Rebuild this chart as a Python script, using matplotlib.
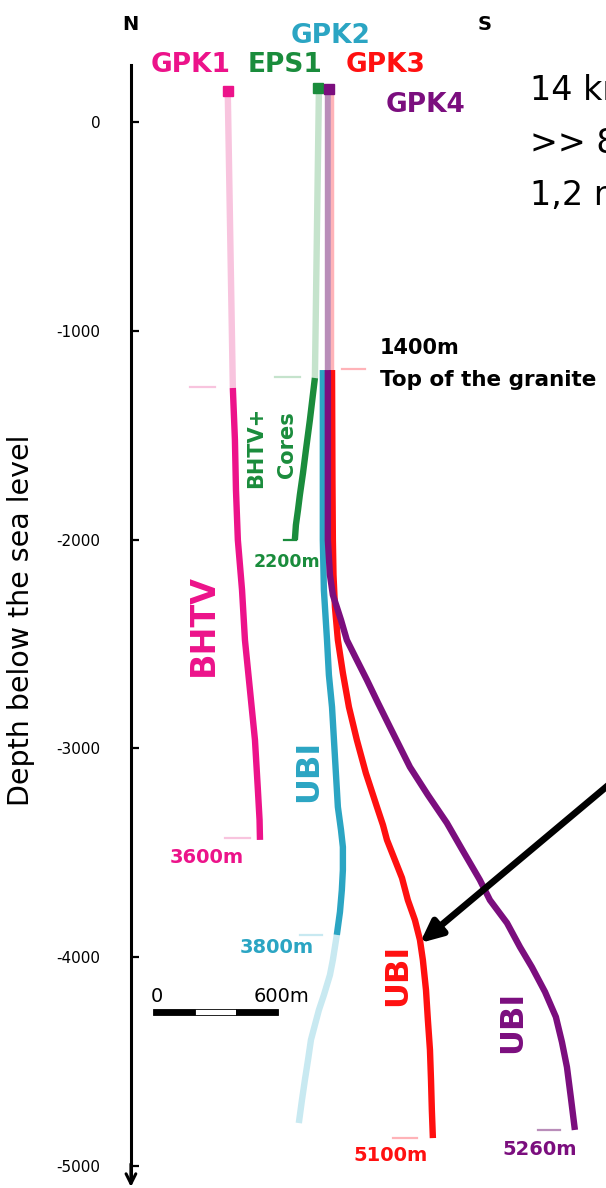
import numpy as np
import matplotlib
matplotlib.use('Agg')
import matplotlib.pyplot as plt

plt.rcParams['axes.unicode_minus'] = False
plt.rcParams['font.family'] = ['DejaVu Sans']

# offsets along the N-S section (m) and elevation (m, negative below sea level)
depth_ticks = [0, -1000, -2000, -3000, -4000, -5000]

gpk1_head = (-465, 148)
gpk1_upper_x = [-465, -441]
gpk1_upper_z = [125, -1274]
gpk1_x = [-441, -431, -426, -417, -397, -383, -359, -335, -321, -313, -311]
gpk1_z = [-1274, -1523, -1762, -2002, -2241, -2481, -2720, -2960, -3199,
          -3343, -3438]

eps1_head = (-34, 163)
eps1_upper_x = [-29, -48]
eps1_upper_z = [140, -1226]
eps1_x = [-48, -72, -91, -105, -120, -129, -139, -144]
eps1_z = [-1226, -1427, -1571, -1681, -1786, -1858, -1930, -2002]

gpk2_x = [-10, -10, -10, -5, 10, 19, 34, 48, 62, 77, 86, 86, 81, 72, 57]
gpk2_z = [-1188, -1714, -2002, -2241, -2481, -2648, -2802, -3041, -3280,
          -3391, -3472, -3582, -3678, -3783, -3893]
gpk2_lower_x = [57, 38, 24, -5, -29, -67, -81, -96, -110, -125]
gpk2_lower_z = [-3893, -4013, -4085, -4181, -4253, -4396, -4492, -4588,
                -4684, -4794]

gpk3_upper_x = [34, 34]
gpk3_upper_z = [140, -1188]
gpk3_x = [34, 36, 38, 41, 48, 62, 86, 115, 153, 196, 249, 278, 297, 335,
          369, 397, 431, 455, 469, 484, 493, 503, 508, 512, 517]
gpk3_z = [-1188, -1714, -2002, -2169, -2323, -2481, -2639, -2802, -2960,
          -3118, -3280, -3367, -3438, -3534, -3620, -3726, -3822, -3917,
          -4013, -4157, -4300, -4444, -4588, -4731, -4866]

gpk4_head = (19, 158)
gpk4_upper_x = [14, 14]
gpk4_upper_z = [140, -1188]
gpk4_x = [14, 14, 14, 24, 38, 57, 77, 105, 148, 201, 254, 311, 359, 407, 493,
          584, 661, 742, 790, 872, 934, 991, 1054, 1106, 1135, 1159, 1178,
          1197]
gpk4_z = [-1188, -1714, -2002, -2169, -2265, -2323, -2385, -2481, -2567,
          -2672, -2782, -2897, -2993, -3089, -3223, -3357, -3491, -3630,
          -3726, -3836, -3951, -4047, -4166, -4286, -4406, -4526, -4674,
          -4827]

# logged intervals: (x start, x end, depth)
log_marks = {
    'gpk1_top': (-646, -527, -1269),
    'gpk1_bot': (-479, -359, -3429),
    'eps1_top': (-239, -120, -1221),
    'eps1_bot': (-194, -139, -2002),
    'gpk3_top': (81, 192, -1183),
    'gpk2_bot': (-120, -14, -3893),
    'gpk3_bot': (326, 441, -4866),
    'gpk4_bot': (1020, 1125, -4827),
}

scale_left = [0, 200, 400]
scale_width = [200, 200, 200]

pink, pink_l = '#EC138A', '#F8C4DE'
green, green_l = '#1A8C3C', '#C5E3CC'
cyan, cyan_l = '#2BA5C3', '#C8E9F1'
red, red_l = '#FF1010', '#FFB3B8'
purple, purple_l = '#7B0E7E', '#B98DB9'

fig = plt.figure(figsize=(6.06, 11.88), dpi=100)
ax = fig.add_axes([0, 0, 1, 1])
ax.set_xlim(-1556, 1346)
ax.set_ylim(-5105, 584)

# depth axis
axis_x = -929
for s in ['top', 'right', 'bottom']:
    ax.spines[s].set_visible(False)
ax.spines['left'].set_position(('data', axis_x))
ax.spines['left'].set_bounds(-5060, 273)
ax.spines['left'].set_linewidth(2.2)
ax.xaxis.set_visible(False)
ax.set_yticks(depth_ticks)
ax.set_yticklabels([str(t) for t in depth_ticks])
ax.tick_params(axis='y', direction='in', length=6, width=1.6, labelsize=11,
               pad=22, colors='k')
ax.annotate('', xy=(axis_x, -5100), xytext=(axis_x, -4990),
            arrowprops=dict(arrowstyle='->,head_length=0.7,head_width=0.35',
                            lw=2.2, color='k', shrinkA=0, shrinkB=0))
ax.set_ylabel('Depth below the sea level', fontsize=20.5)
ax.yaxis.set_label_coords(0.058, 0.478)

lw = 4.6
style = dict(solid_capstyle='butt', solid_joinstyle='round')
# upper, unlogged sections
ax.plot(gpk1_upper_x, gpk1_upper_z, color=pink_l, lw=lw, **style)
ax.plot(eps1_upper_x, eps1_upper_z, color=green_l, lw=lw, **style)
ax.plot(gpk4_upper_x, gpk4_upper_z, color=purple_l, lw=lw, **style)
ax.plot(gpk3_upper_x, gpk3_upper_z, color=red_l, lw=2.5, **style)
ax.plot(gpk2_lower_x, gpk2_lower_z, color=cyan_l, lw=lw, **style)

# logged sections
ax.plot(gpk1_x, gpk1_z, color=pink, lw=lw, **style)
ax.plot(eps1_x, eps1_z, color=green, lw=lw, **style)
ax.plot(gpk2_x, gpk2_z, color=cyan, lw=lw, **style)
ax.plot(gpk3_x, gpk3_z, color=red, lw=lw, **style)
ax.plot(gpk4_x, gpk4_z, color=purple, lw=lw, **style)

# well heads
ax.plot(*gpk1_head, 's', color=pink, ms=7.5)
ax.plot(*eps1_head, 's', color=green, ms=7.5)
ax.plot(*gpk4_head, 's', color=purple, ms=7.5)

mark_colors = {'gpk1_top': pink_l, 'gpk1_bot': pink_l, 'eps1_top': green_l,
               'eps1_bot': green, 'gpk3_top': red_l, 'gpk2_bot': cyan_l,
               'gpk3_bot': red_l, 'gpk4_bot': purple_l}
for key, (x0, x1, z) in log_marks.items():
    ax.plot([x0, x1], [z, z], color=mark_colors[key], lw=1.6)

# scale bar
ax.barh(-4262, scale_width, left=np.array(scale_left) - 824, height=26,
        color=['k', 'w', 'k'], edgecolor='k', lw=0.6)
ax.text(-805, -4190, '0', fontsize=14, ha='center', va='center')
ax.text(-206, -4190, '600m', fontsize=14, ha='center', va='center')

# arrow
ax.annotate('', xy=(455, -3932), xytext=(1420, -3123),
            arrowprops=dict(arrowstyle='-|>,head_length=1.3,head_width=0.6',
                            lw=4.8, color='k', shrinkA=0, shrinkB=0),
            annotation_clip=False)

# labels
ax.text(-934, 465, 'N', fontsize=14, weight='bold', ha='center', va='center')
ax.text(766, 465, 'S', fontsize=14, weight='bold', ha='center', va='center')
ax.text(29, 412, 'GPK2', color=cyan, fontsize=19, weight='bold', ha='center', va='center')
ax.text(-642, 273, 'GPK1', color=pink, fontsize=19, weight='bold', ha='center', va='center')
ax.text(-192, 273, 'EPS1', color=green, fontsize=19, weight='bold', ha='center', va='center')
ax.text(292, 273, 'GPK3', color=red, fontsize=19, weight='bold', ha='center', va='center')
ax.text(484, 81, 'GPK4', color=purple, fontsize=19, weight='bold', ha='center', va='center')

ax.text(982, 153, '14 km', fontsize=24, ha='left', va='center')
ax.text(982, -101, '>> 8', fontsize=24, ha='left', va='center')
ax.text(982, -350, '1,2 m', fontsize=24, ha='left', va='center')

ax.text(263, -1082, '1400m', fontsize=15, weight='bold', ha='left', va='center')
ax.text(263, -1236, 'Top of the granite', fontsize=15.5, weight='bold',
        ha='left', va='center')

ax.text(-584, -2409, 'BHTV', color=pink, fontsize=24, weight='bold',
        rotation=90, ha='center', va='center')
ax.text(-330, -1557, 'BHTV+', color=green, fontsize=15, weight='bold',
        rotation=90, ha='center', va='center')
ax.text(-182, -1547, 'Cores', color=green, fontsize=15, weight='bold',
        rotation=90, ha='center', va='center')
ax.text(-77, -3108, 'UBI', color=cyan, fontsize=23, weight='bold',
        rotation=90, ha='center', va='center')
ax.text(350, -4085, 'UBI', color=red, fontsize=23, weight='bold',
        rotation=90, ha='center', va='center')
ax.text(900, -4310, 'UBI', color=purple, fontsize=23, weight='bold',
        rotation=90, ha='center', va='center')

ax.text(-565, -3520, '3600m', color=pink, fontsize=14, weight='bold', ha='center', va='center')
ax.text(-182, -2107, '2200m', color=green, fontsize=12.5, weight='bold', ha='center', va='center')
ax.text(-230, -3951, '3800m', color=cyan, fontsize=14, weight='bold', ha='center', va='center')
ax.text(316, -4947, '5100m', color=red, fontsize=14, weight='bold', ha='center', va='center')
ax.text(1030, -4923, '5260m', color=purple, fontsize=14, weight='bold', ha='center', va='center')

fig.savefig('out.png', dpi=100)
